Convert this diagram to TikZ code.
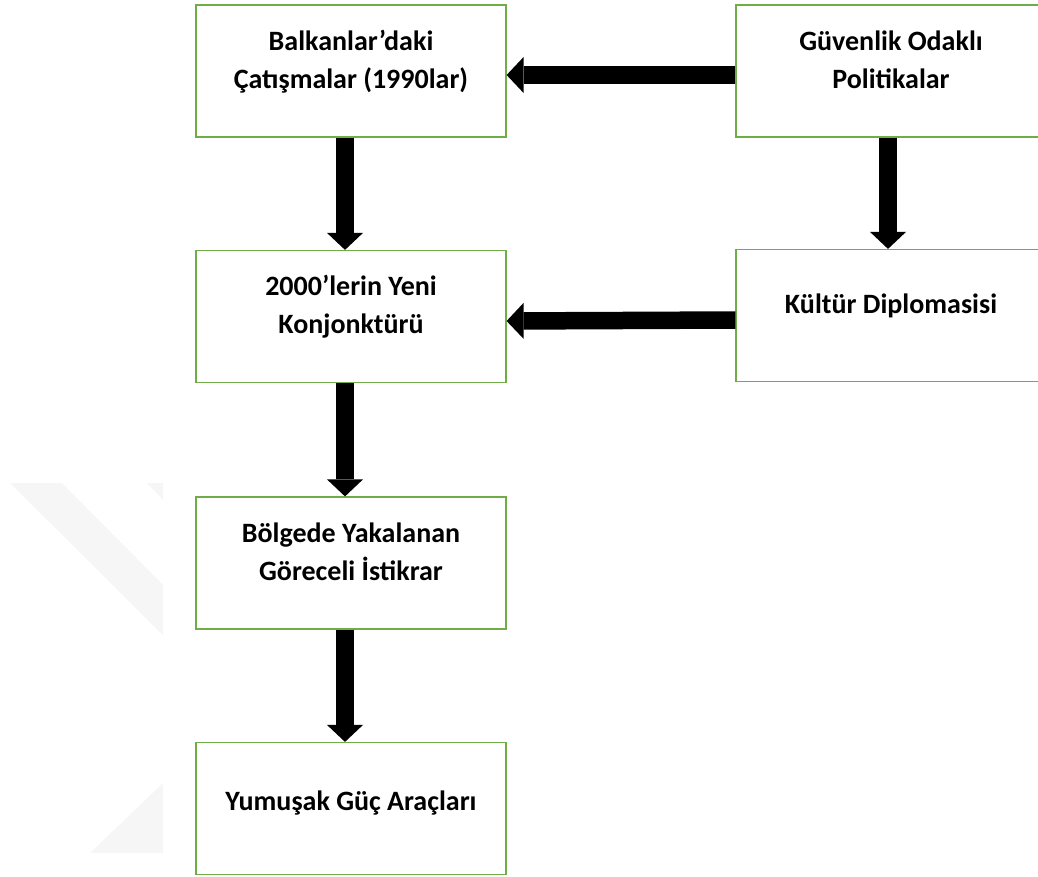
\documentclass[tikz,border=0pt]{standalone}
\usepackage{fontspec}
\setmainfont{Carlito}
\usepackage{tikz}
\usetikzlibrary{arrows.meta}
\definecolor{kutuyesil}{HTML}{70AD47}
\newcommand{\Kutu}[2][9.5pt]{\raisebox{#1}[\height][\depth]{\begin{tabular}{c}#2\end{tabular}}}

\begin{document}
\begin{tikzpicture}[x=1pt,y=-1pt,
    kutu/.style={draw=kutuyesil, line width=1.2pt, minimum width=310pt, minimum height=132pt,
      inner sep=0pt, font=\fontsize{28}{38}\selectfont\bfseries},
    oklar/.style={line width=17.5pt, -{Triangle[width=36pt,length=17pt,line width=0pt]}}]
        \useasboundingbox (0,0) rectangle (1038,876);
        % filigran
        \fill[gray!7] (10,483) -- (62,483) -- (163,585) -- (163,635) -- cycle;
        \fill[gray!7] (147,483) -- (163,483) -- (163,500) -- cycle;
        \fill[gray!7] (163,783) -- (163,853) -- (90,853) -- cycle;
        \node[kutu] (Balk) at (351,71) {\Kutu{Balkanlar’daki\\Çatışmalar (1990lar)}};
        \node[kutu] (Guve) at (891,71) {\Kutu{Güvenlik Odaklı\\Politikalar}};
        \node[kutu] (Yeni) at (351,316.5) {\Kutu{2000’lerin Yeni\\Konjonktürü}};
        \node[kutu] (Kult) at (891,315.5) {\Kutu{Kültür Diplomasisi}};
        \node[kutu] (Bolg) at (351,563) {\Kutu{Bölgede Yakalanan\\Göreceli İstikrar}};
        \node[kutu] (Yumu) at (351,808.5) {\Kutu[6pt]{Yumuşak Güç Araçları}};
        \draw[oklar] ([yshift=-4pt]Guve.west) -- ([yshift=-4pt]Balk.east);
        \draw[oklar] ([yshift=-4.5pt]Kult.west) -- ([yshift=-4.5pt]Yeni.east);
        \draw[oklar] ([xshift=-3pt]Guve.south) -- ([xshift=-3pt]Kult.north);
        \draw[oklar] ([xshift=-6pt]Balk.south) -- ([xshift=-6pt]Yeni.north);
        \draw[oklar] ([xshift=-6pt]Yeni.south) -- ([xshift=-6pt]Bolg.north);
        \draw[oklar] ([xshift=-6pt]Bolg.south) -- ([xshift=-6pt]Yumu.north);
      \end{tikzpicture}
\end{document}
